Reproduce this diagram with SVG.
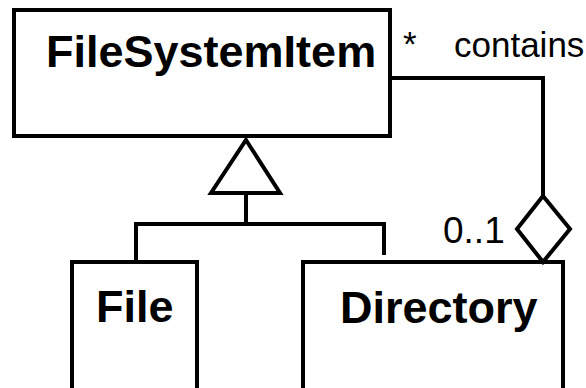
<svg xmlns="http://www.w3.org/2000/svg" width="586" height="388" viewBox="0 0 586 388">
  <style>
    .box { fill: #ffffff; stroke: #000000; stroke-width: 4; }
    .line { fill: none; stroke: #000000; stroke-width: 4; stroke-linejoin: miter; }
    .head { fill: #ffffff; stroke: #000000; stroke-width: 4; stroke-linejoin: miter; }
    .name { font-family: "Liberation Sans", Arial, sans-serif; font-weight: bold; font-size: 45px; fill: #000000; }
    .label { font-family: "Liberation Sans", Arial, sans-serif; font-size: 35px; fill: #000000; }
  </style>
  <rect width="586" height="388" fill="#ffffff"/>

  <!-- classes -->
  <g id="FileSystemItem">
    <rect class="box" x="14" y="10" width="376" height="126"/>
    <text class="name" x="46" y="67">FileSystemItem</text>
  </g>
  <g id="File">
    <rect class="box" x="72" y="262" width="125" height="140"/>
    <text class="name" x="96" y="322">File</text>
  </g>
  <g id="Directory">
    <rect class="box" x="303" y="262" width="260" height="140"/>
    <text class="name" x="340" y="323">Directory</text>
  </g>

  <!-- connectors -->
  <g id="connectors">
    <!-- generalization: File and Directory inherit FileSystemItem -->
    <polyline class="line" points="136,262 136,224 384,224 384,255"/>
    <line class="line" x1="246" y1="193" x2="246" y2="224"/>
    <polygon class="head" points="246,140 280,193 211,193"/>

    <!-- aggregation: Directory contains FileSystemItem -->
    <polyline class="line" points="390,78 543,78 543,196"/>
    <polygon class="head" points="543,196 570,229 543,262 517,229"/>

    <text class="label" x="403" y="56">*</text>
    <text class="label" x="454" y="57">contains</text>
    <text class="label" x="443" y="243" style="font-size:37px">0..1</text>
  </g>
</svg>
